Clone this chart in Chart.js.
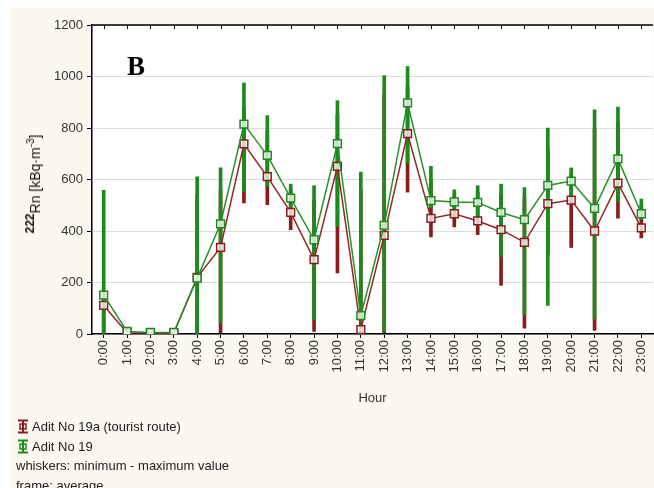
<!DOCTYPE html>
<html>
<head>
<meta charset="utf-8">
<title>222Rn by hour</title>
<script src="https://cdn.jsdelivr.net/npm/chart.js@4.4.0/dist/chart.umd.min.js"></script>
<style>
html, body { margin: 0; padding: 0; background: #fff; overflow: hidden; }
#wrap { position: relative; width: 654px; height: 488px; overflow: hidden; font-family: "Liberation Sans", Arial, sans-serif; }
#radon-chart { position: absolute; left: 0; top: 0; }
.y-title { position: absolute; left: 33px; top: 184px; transform: translate(-50%, -50%) rotate(-90deg); white-space: nowrap; font-size: 14px; color: #111; }
.y-title .iso { font-size: 12px; font-weight: bold; vertical-align: 6px; }
.y-title sup { font-size: 10px; }
.panel { position: absolute; left: 127px; top: 51px; font: bold 27px "Liberation Serif", "Times New Roman", serif; color: #000; }
.legend { position: absolute; left: 16px; top: 417px; font-size: 13px; color: #222; line-height: 19.5px; white-space: nowrap; }
.legend svg { vertical-align: -3px; margin-right: 2px; }
</style>
</head>
<body>
<div id="wrap">
<canvas id="radon-chart" width="660" height="488"></canvas>
<div class="y-title"><span class="iso">222</span>Rn [kBq·m<sup>-3</sup>]</div>
<div class="panel">B</div>
<div class="legend">
<div><svg width="14" height="15"><path d="M2 1.5h10M2 13.5h10M7 1.5v12" stroke="#8b1c1c" stroke-width="2"/><rect x="4" y="5" width="6" height="5" fill="none" stroke="#8b1c1c" stroke-width="1.5"/></svg>Adit No 19a (tourist route)</div>
<div><svg width="14" height="15"><path d="M2 1.5h10M2 13.5h10M7 1.5v12" stroke="#1c8a1c" stroke-width="2"/><rect x="4" y="5" width="6" height="5" fill="none" stroke="#1c8a1c" stroke-width="1.5"/></svg>Adit No 19</div>
<div>whiskers: minimum - maximum value</div>
<div>frame: average</div>
</div>
</div>

<script>
// -------------------------------- Data -------------------------------------- //

const hours = ["0:00", "1:00", "2:00", "3:00", "4:00", "5:00", "6:00", "7:00",
    "8:00", "9:00", "10:00", "11:00", "12:00", "13:00", "14:00", "15:00",
    "16:00", "17:00", "18:00", "19:00", "20:00", "21:00", "22:00", "23:00"];

// Adit No 19 (green)
const adit19Mean = [151, 10, 6, 6, 217, 428, 815, 694, 528, 366, 739, 71,
    422, 898, 518, 513, 511, 472, 444, 577, 594, 488, 680, 467];
const adit19Min = [0, 0, 0, 0, 0, 43, 554, 573, 470, 55, 418, 0,
    10, 664, 490, 476, 457, 301, 75, 111, 534, 58, 515, 445];
const adit19Max = [558, 15, 10, 10, 610, 645, 975, 848, 582, 576, 906, 629,
    1004, 1039, 651, 560, 576, 582, 569, 800, 645, 871, 881, 524];

// Adit No 19a, tourist route (red)
const adit19aMean = [111, 5, 4, 4, 220, 336, 738, 611, 472, 289, 651, 17,
    383, 778, 449, 467, 439, 405, 356, 506, 520, 400, 586, 412];
const adit19aMin = [0, 0, 0, 0, 0, 5, 509, 502, 405, 10, 237, 0,
    5, 551, 377, 416, 386, 189, 23, 310, 336, 14, 450, 373];
const adit19aMax = [140, 10, 6, 6, 540, 560, 880, 790, 560, 520, 850, 560,
    930, 960, 600, 540, 550, 540, 530, 720, 620, 800, 820, 500];

const yTicks = [0, 200, 400, 600, 800, 1000, 1200];

const green = '#1c8a1c';
const red = '#8b1c1c';

// -------------------------------- Plugins -------------------------------------- //

// cream page, white plot area and the top frame line with its ticks
const frame = {
    id: 'frame',
    beforeDraw(chart) {
        const { ctx, chartArea } = chart;
        ctx.save();
        ctx.fillStyle = '#fff';
        ctx.fillRect(0, 0, chart.width, chart.height);
        ctx.fillStyle = '#fcf8f0';
        ctx.fillRect(10, 8, chart.width, chart.height);
        ctx.fillStyle = '#fff';
        ctx.fillRect(chartArea.left, chartArea.top,
            chartArea.right - chartArea.left, chartArea.bottom - chartArea.top);
        ctx.restore();
    },
    afterDraw(chart) {
        const { ctx, chartArea, scales } = chart;
        ctx.save();
        ctx.strokeStyle = '#000';
        ctx.lineWidth = 1.5;
        ctx.beginPath();
        ctx.moveTo(chartArea.left, chartArea.top);
        ctx.lineTo(chartArea.right, chartArea.top);
        ctx.stroke();
        ctx.lineWidth = 1;
        hours.forEach((h, i) => {
            const x = Math.round(scales.x.getPixelForValue(i)) + 0.5;
            ctx.beginPath();
            ctx.moveTo(x, chartArea.top);
            ctx.lineTo(x, chartArea.top + 4);
            ctx.stroke();
        });
        ctx.restore();
    }
};

// -------------------------------- Chart -------------------------------------- //

const radonCanvas = document.getElementById("radon-chart");

const radonData = {
    labels: hours,
    datasets: [
        {
            type: 'line',
            label: 'Adit No 19',
            data: adit19Mean,
            borderColor: '#2a8f2a',
            borderWidth: 1.5,
            pointStyle: 'rect',
            pointRadius: 5.5,
            pointBorderWidth: 1.5,
            pointBorderColor: green,
            pointBackgroundColor: 'rgba(255,255,255,0.75)',
            order: 0
        },
        {
            type: 'line',
            label: 'Adit No 19a (tourist route)',
            data: adit19aMean,
            borderColor: '#922626',
            borderWidth: 1.5,
            pointStyle: 'rect',
            pointRadius: 5.5,
            pointBorderWidth: 1.5,
            pointBorderColor: red,
            pointBackgroundColor: 'rgba(255,255,255,0.75)',
            order: 1
        },
        {
            type: 'bar',
            label: 'Adit No 19 min-max',
            data: adit19Min.map((v, i) => [v, adit19Max[i]]),
            backgroundColor: green,
            barThickness: 3,
            grouped: false,
            order: 2
        },
        {
            type: 'bar',
            label: 'Adit No 19a min-max',
            data: adit19aMin.map((v, i) => [v, adit19aMax[i]]),
            backgroundColor: red,
            barThickness: 3,
            grouped: false,
            order: 3
        }
    ]
};

const radonOptions = {
    responsive: false,
    animation: false,
    layout: {
        padding: { top: 25, right: 4, bottom: 82, left: 0 }
    },
    scales: {
        x: {
            offset: true,
            ticks: {
                minRotation: 90,
                maxRotation: 90,
                autoSkip: false,
                color: '#333',
                font: { size: 13, family: '"Liberation Sans", Arial, sans-serif' },
                padding: 2
            },
            grid: {
                drawOnChartArea: false,
                offset: false,
                tickLength: 4,
                tickColor: '#000'
            },
            border: { color: '#000', width: 1.5 },
            title: {
                display: true,
                text: 'Hour',
                color: '#333',
                font: { size: 13, family: '"Liberation Sans", Arial, sans-serif' },
                padding: { top: 4, bottom: 0 }
            },
            afterFit(scale) {
                scale.height = 72;
            }
        },
        y: {
            min: 0,
            max: 1200,
            afterBuildTicks(scale) {
                scale.ticks = yTicks.map(v => ({ value: v }));
            },
            ticks: {
                color: '#333',
                font: { size: 13, family: '"Liberation Sans", Arial, sans-serif' },
                padding: 4,
                callback: (value) => String(value)
            },
            grid: {
                color: '#dcdcdc',
                tickLength: 5,
                tickColor: '#000'
            },
            border: { color: '#000', width: 1.5 },
            afterFit(scale) {
                scale.width = 92;
            }
        }
    },
    plugins: {
        legend: { display: false },
        tooltip: { enabled: false }
    }
};

let radonChart = new Chart(radonCanvas, {
    data: radonData,
    options: radonOptions,
    plugins: [frame]
});
</script>
</body>
</html>
